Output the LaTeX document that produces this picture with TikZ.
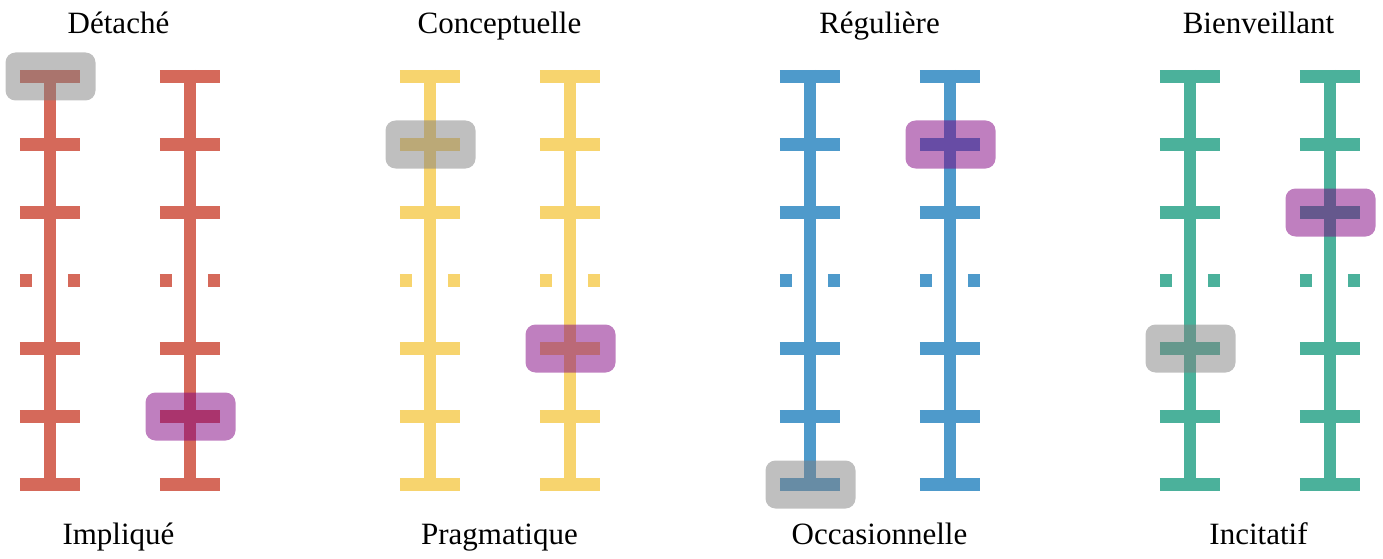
\documentclass[tikz,border=0pt]{standalone}
\usepackage{fontspec}
\setmainfont{Liberation Serif}
\definecolor{cred}{RGB}{213,105,90}
\definecolor{cyellow}{RGB}{247,212,110}
\definecolor{cblue}{RGB}{78,154,203}
\definecolor{cgreen}{RGB}{75,177,155}
\definecolor{cpurp}{RGB}{128,0,128}
\definecolor{cgrey}{RGB}{128,128,128}
\newcommand\myscale[2]{%
  \draw[barln,#2] (#1,70) -- (#1,490.7);
  \foreach \yy in {76.3,144.3,212.3,348.3,416.3,484.3}
    \draw[tickln,#2] ({#1-30},\yy) -- ({#1+30},\yy);
  \draw[dotln,#2] ({#1-30},280.3) -- ({#1+30},280.3);
}
\begin{document}
\begin{tikzpicture}[x=1pt,y=-1pt,
  barln/.style={line width=12.6pt},
  tickln/.style={line width=12.6pt},
  dotln/.style={line width=12.6pt,dash pattern=on 12pt off 12pt},
  hlbox/.style={minimum width=90pt,minimum height=48pt,rounded corners=10pt,inner sep=0pt,fill opacity=0.5,draw=none},
  hlgrey/.style={hlbox,fill=cgrey},
  hlpurp/.style={hlbox,fill=cpurp},
  lbl/.style={font=\fontsize{31}{36}\selectfont,anchor=base,inner sep=0pt}]
\useasboundingbox (0,0) rectangle (1383,559);
% scales
\myscale{49.8}{cred}
\myscale{189.8}{cred}
\myscale{429.8}{cyellow}
\myscale{569.8}{cyellow}
\myscale{809.8}{cblue}
\myscale{949.8}{cblue}
\myscale{1189.8}{cgreen}
\myscale{1329.8}{cgreen}
% highlights
\node[hlgrey] (g1) at (50.5,76.5) {};
\node[hlpurp] (p1) at (190.5,416.5) {};
\node[hlgrey] (g2) at (430.5,144.5) {};
\node[hlpurp] (p2) at (570.5,348.5) {};
\node[hlgrey] (g3) at (810.5,484.5) {};
\node[hlpurp] (p3) at (950.5,144.5) {};
\node[hlgrey] (g4) at (1190.5,348.5) {};
\node[hlpurp] (p4) at (1330.5,212.5) {};
% labels
\node[lbl] (t1) at (118.5,33.3) {Détaché};
\node[lbl] (t2) at (499.5,33.3) {Conceptuelle};
\node[lbl] (t3) at (879.5,33.3) {Régulière};
\node[lbl] (t4) at (1258.5,33.3) {Bienveillant};
\node[lbl] (b1) at (118.5,544) {Impliqué};
\node[lbl] (b2) at (499.5,544) {Pragmatique};
\node[lbl] (b3) at (879.5,544) {Occasionnelle};
\node[lbl] (b4) at (1258.5,544) {Incitatif};
\end{tikzpicture}
\end{document}
